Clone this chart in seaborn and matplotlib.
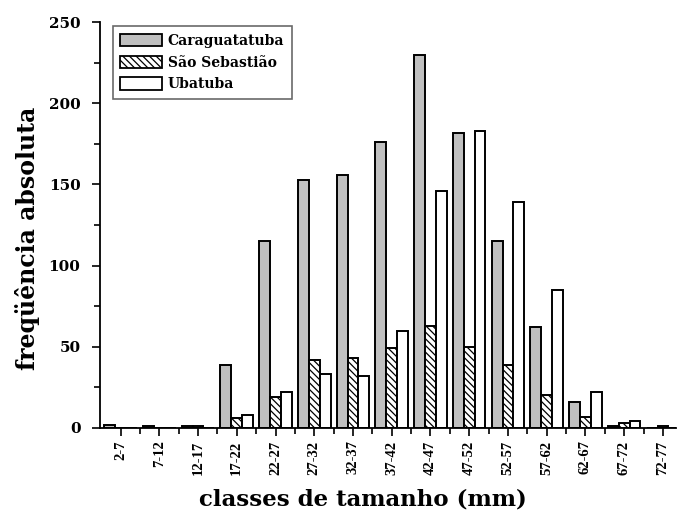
import matplotlib
matplotlib.use("Agg")
import matplotlib.pyplot as plt
from matplotlib.patches import Patch
from matplotlib.ticker import MultipleLocator, FixedLocator
import numpy as np
import pandas as pd
import seaborn as sns

classes = ["2-7", "7-12", "12-17", "17-22", "22-27", "27-32", "32-37", "37-42",
           "42-47", "47-52", "52-57", "57-62", "62-67", "67-72", "72-77"]
caraguatatuba = [2, 1, 1, 39, 115, 153, 156, 176, 230, 182, 115, 62, 16, 1, 0]
sao_sebastiao = [0, 0, 1, 6, 19, 42, 43, 49, 63, 50, 39, 20, 7, 3, 1]
ubatuba = [0, 0, 0, 8, 22, 33, 32, 60, 146, 183, 139, 85, 22, 4, 0]
locais = ["Caraguatatuba", "São Sebastião", "Ubatuba"]

df = pd.DataFrame({
    "classe": classes * 3,
    "local": np.repeat(locais, len(classes)),
    "freq": caraguatatuba + sao_sebastiao + ubatuba,
})

sns.set_style("ticks")
plt.rcParams["font.family"] = ["DejaVu Serif"]
plt.rcParams["font.weight"] = "bold"
plt.rcParams["text.color"] = "black"
plt.rcParams["axes.labelcolor"] = "black"
plt.rcParams["xtick.color"] = "black"
plt.rcParams["ytick.color"] = "black"
plt.rcParams["hatch.linewidth"] = 0.9

fig = plt.figure(figsize=(6.77, 5.15), dpi=100)
ax = fig.add_axes([0.1477, 0.169, 0.851, 0.788])

fills = ["#c0c0c0", "white", "white"]
hatches = ["", "\\\\\\\\\\", ""]

sns.barplot(data=df, x="classe", y="freq", hue="local", order=classes,
            hue_order=locais, palette=fills, width=0.84, gap=0,
            edgecolor="black", linewidth=1.4, saturation=1, legend=False,
            errorbar=None, ax=ax)

for cont, h in zip(ax.containers, hatches):
    for bar in cont:
        bar.set_hatch(h)

ax.set_ylim(0, 250)
ax.set_xlim(-0.53, 14.34)
ax.yaxis.set_major_locator(MultipleLocator(50))
ax.yaxis.set_minor_locator(MultipleLocator(25))
ax.xaxis.set_minor_locator(FixedLocator(np.arange(len(classes) - 1) + 0.5))
ax.tick_params(axis="both", which="major", direction="out", length=6, width=1.2, color="black")
ax.tick_params(axis="both", which="minor", direction="out", length=4, width=1.2, color="black")
ax.tick_params(axis="y", labelsize=11, pad=8, labelcolor="black")
ax.tick_params(axis="x", pad=3, labelcolor="black")

for lab in ax.get_yticklabels():
    lab.set_fontweight("bold")
ax.set_xticks(range(len(classes)))
ax.set_xticklabels(classes, rotation=90, fontsize=10.5, fontweight="bold",
                   family=["Liberation Serif"], va="top", ha="center")

for s in ["top", "right"]:
    ax.spines[s].set_visible(False)
for s in ["left", "bottom"]:
    ax.spines[s].set_linewidth(1.3)
    ax.spines[s].set_color("black")

ax.set_xlabel("classes de tamanho (mm)", fontsize=16.5, fontweight="bold")
ax.xaxis.set_label_coords(0.456, -0.148, transform=ax.transAxes)
ax.xaxis.label.set_va("top")
ax.set_ylabel("freqüência absoluta", fontsize=17, fontweight="bold")
ax.yaxis.set_label_coords(-0.104, 0.468, transform=ax.transAxes)

handles = [Patch(facecolor=f, edgecolor="black", hatch=h, linewidth=1.3, label=l)
           for f, h, l in zip(fills, hatches, locais)]
leg = ax.legend(handles=handles, loc="upper left", bbox_to_anchor=(0.015, 1.0),
                frameon=True, fancybox=False, edgecolor="#444444",
                prop={"weight": "bold", "size": 10}, handlelength=3.0,
                handleheight=1.0, handletextpad=0.4, labelspacing=0.55,
                borderpad=0.55, borderaxespad=0.3)
leg.get_frame().set_linewidth(1.2)

fig.savefig("out.png", dpi=100)
